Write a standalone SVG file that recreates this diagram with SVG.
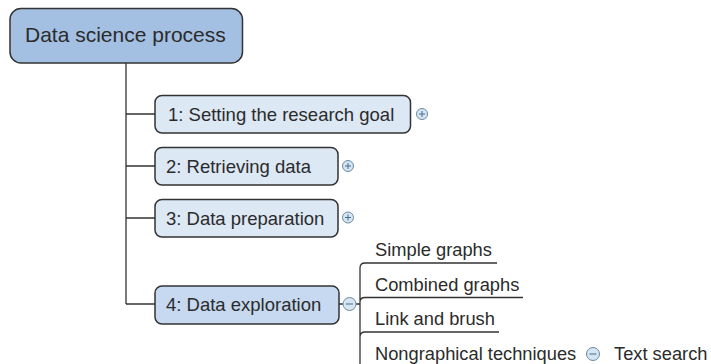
<svg xmlns="http://www.w3.org/2000/svg" width="711" height="364" viewBox="0 0 711 364">
<defs>
<style>
.t{font-family:"Liberation Sans",Arial,sans-serif;fill:#2b2b2b}
.n{font-size:18.5px}
.s{font-size:18.3px}
.box{stroke:#333;stroke-width:1.5}
.line{fill:none;stroke:#333;stroke-width:1.3}
.tg{fill:#d4e5f3;stroke:#6b8aa3;stroke-width:1}
.tgs{stroke:#4c6b85;stroke-width:1;fill:none}
</style>
<g id="plus"><circle class="tg" cx="0" cy="0" r="5.5"/><path class="tgs" d="M-3,0H3M0,-3V3"/></g>
<g id="minus"><circle class="tg" cx="0" cy="0" r="6.5"/><path class="tgs" d="M-3.5,0H3.5"/></g>
</defs>
<rect width="711" height="364" fill="#fff"/>
<g id="connectors">
<path class="line" d="M126,63V304M126,114H155M126,166H155M126,218H155M126,304H155"/>
<path class="line" d="M339,304H343M356,304H360"/>
<path class="line" d="M360,268Q360,263 365,263H497M360,268V364M360,302Q360,297.5 365,297.5H523M360,337Q360,332 365,332H499"/>
</g>
<g id="root">
<rect class="box" x="10" y="8.5" width="232.5" height="54.5" rx="11" fill="#a3c0e3"/>
<text class="t" x="25" y="42" font-size="21">Data science process</text>
</g>
<g id="n1">
<rect class="box" x="155" y="95.5" width="255.5" height="37.5" rx="7" fill="#dde8f5"/>
<text class="t n" x="168" y="120.5">1: Setting the research goal</text>
<use href="#plus" x="422" y="114"/>
</g>
<g id="n2">
<rect class="box" x="155" y="147.5" width="183" height="37.5" rx="7" fill="#dde8f5"/>
<text class="t n" x="166" y="172.5">2: Retrieving data</text>
<use href="#plus" x="348" y="166"/>
</g>
<g id="n3">
<rect class="box" x="155" y="199.5" width="183" height="37.5" rx="7" fill="#dde8f5"/>
<text class="t n" x="166" y="224.5">3: Data preparation</text>
<use href="#plus" x="348" y="217.5"/>
</g>
<g id="n4">
<rect class="box" x="155" y="286" width="184" height="38" rx="7" fill="#c6d9f0"/>
<text class="t n" x="166" y="311">4: Data exploration</text>
<use href="#minus" x="349.5" y="304"/>
</g>
<g id="s1"><text class="t s" x="375" y="256">Simple graphs</text></g>
<g id="s2"><text class="t s" x="375" y="290.5">Combined graphs</text></g>
<g id="s3"><text class="t s" x="375" y="325">Link and brush</text></g>
<g id="s4"><text class="t s" x="375" y="359.5">Nongraphical techniques</text>
<use href="#minus" x="593" y="354"/></g>
<g id="s5"><text class="t s" x="614" y="359.5">Text search</text></g>
</svg>
